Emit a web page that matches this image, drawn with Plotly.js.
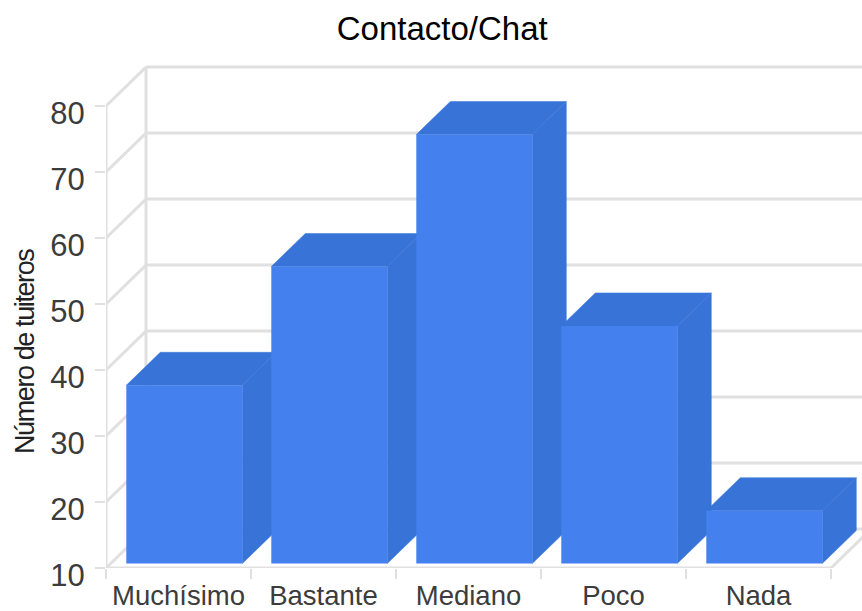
<!DOCTYPE html>
<html>
<head>
<meta charset="utf-8">
<script src="https://cdn.plot.ly/plotly-3.0.1.min.js"></script>
<style>html,body{margin:0;padding:0;background:#fff} .annotation-text{letter-spacing:-1.4px}</style>
</head>
<body>
<div id="chart" style="width:862px;height:611px"></div>
<script>
var categories = ['Muchísimo', 'Bastante', 'Mediano', 'Poco', 'Nada'];
var values = [37, 55, 75, 46, 18];
var yTicks = [10, 20, 30, 40, 50, 60, 70, 80];
var chartTitle = 'Contacto/Chat';
var yTitle = 'Número de tuiteros';

var FRONT = '#4480ee', SHADE = '#3874d8', GRID = '#e0e0e0', TEXT = '#3c3c3c';
var wallDx = 0.276, wallDy = 5.9;
var barDx = 0.2345, barDy = 5;
var barWidth = 0.8, barShift = 0.04, barLift = 0.68;

var idx = categories.map(function (_, i) { return i; });
var xMin = -0.5, xMax = categories.length - 0.5;
var yMin = yTicks[0], yMax = yTicks[yTicks.length - 1];
var barBase = yMin + barLift;

var gx = [], gy = [];
function seg(x0, y0, x1, y1) { gx.push(x0, x1, null); gy.push(y0, y1, null); }
yTicks.forEach(function (t) {
  seg(xMin, t, xMin + wallDx, t + wallDy);
  seg(xMin + wallDx, t + wallDy, xMax + wallDx, t + wallDy);
});
seg(xMin, yMin, xMin, yMax);
seg(xMin + wallDx, yMin + wallDy, xMin + wallDx, yMax + wallDy);
seg(xMin, yMin, xMax, yMin);
seg(xMax, yMin, xMax + wallDx, yMin + wallDy);

var sx = [], sy = [], tx = [], ty = [];
idx.forEach(function (i) {
  var x0 = i + barShift - barWidth / 2, x1 = x0 + barWidth, v = values[i] + barLift;
  sx.push(x1, x1 + barDx, x1 + barDx, x1, x1, null);
  sy.push(barBase, barBase + barDy, v + barDy, v, barBase, null);
  tx.push(x0, x1, x1 + barDx, x0 + barDx, x0, null);
  ty.push(v, v, v + barDy, v + barDy, v, null);
});

var traces = [
  { type: 'scatter', mode: 'lines', x: gx, y: gy, cliponaxis: false,
    line: { color: GRID, width: 3 }, hoverinfo: 'skip', connectgaps: false },
  { type: 'scatter', mode: 'lines', x: sx, y: sy, fill: 'toself', fillcolor: SHADE,
    line: { color: SHADE, width: 0.5 }, hoverinfo: 'skip' },
  { type: 'scatter', mode: 'lines', x: tx, y: ty, fill: 'toself', fillcolor: SHADE,
    line: { color: SHADE, width: 0.5 }, hoverinfo: 'skip' },
  { type: 'bar', xaxis: 'x2', yaxis: 'y2',
    x: idx.map(function (i) { return i + barShift; }),
    y: values.map(function (v) { return v - yMin; }),
    base: barBase, width: barWidth,
    marker: { color: FRONT, line: { width: 0 } } }
];

var xRange = [xMin, xMin + 756 / 145];
var yRange = [yMin, yMin + 508 / 6.6];
var bounds = [-0.5, 0.5, 1.5, 2.5, 3.5, 4.5];

var layout = {
  width: 862, height: 611,
  margin: { l: 106, r: 0, t: 60, b: 43 },
  paper_bgcolor: '#fff', plot_bgcolor: '#fff',
  showlegend: false,
  font: { family: 'Liberation Sans, Arial, sans-serif', color: TEXT },
  title: { text: chartTitle, x: 0.513, xanchor: 'center', y: 0.953, yanchor: 'middle',
           font: { size: 33, color: '#000' } },
  xaxis: { range: xRange, tickmode: 'array', tickvals: idx, ticktext: categories,
           showgrid: false, zeroline: false, showline: false, ticks: '',
           ticklabelstandoff: 8, tickfont: { size: 27.5, color: TEXT } },
  yaxis: { range: yRange, tickmode: 'array', tickvals: yTicks, showgrid: false, zeroline: false,
           showline: false, ticks: 'outside', ticklen: 10, tickwidth: 2.5, tickcolor: GRID,
           tickfont: { size: 31, color: TEXT }, ticklabelstandoff: 4, ticklabelshift: 7 },
  xaxis2: { range: xRange, overlaying: 'x', anchor: 'y2', side: 'bottom', tickmode: 'array',
            tickvals: bounds, showticklabels: false, ticks: 'outside', ticklen: 10, tickwidth: 2,
            tickcolor: GRID, showgrid: false, zeroline: false, showline: false },
  yaxis2: { range: yRange, overlaying: 'y', anchor: 'x2', visible: false },
  annotations: [{ text: yTitle, xref: 'paper', yref: 'paper', x: -106 / 756 + 25 / 756, y: (568 - 352) / 508,
                  xanchor: 'center', yanchor: 'middle', textangle: -90, showarrow: false,
                  font: { size: 27, color: '#222' } }]
};

Plotly.newPlot('chart', traces, layout, { displayModeBar: false, staticPlot: true });
</script>
</body>
</html>
